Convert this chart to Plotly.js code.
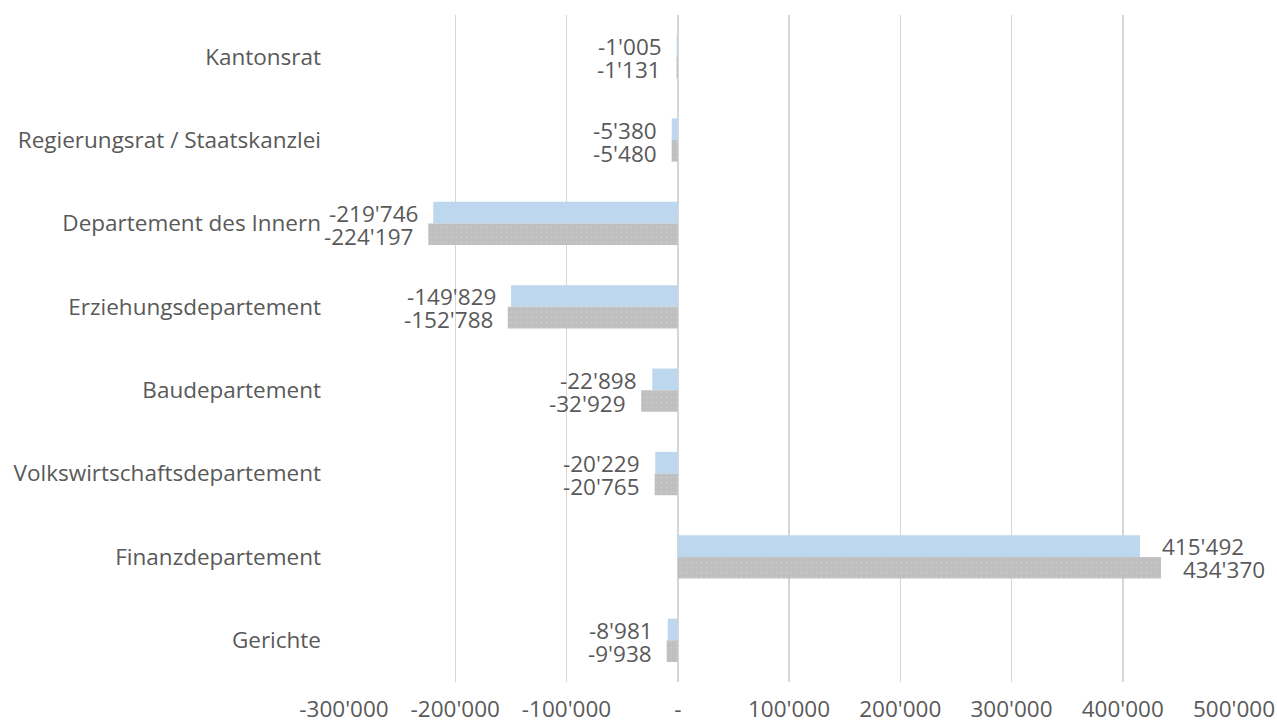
<!DOCTYPE html>
<html>
<head>
<meta charset="utf-8">
<script src="https://cdn.plot.ly/plotly-3.0.1.min.js"></script>
<style>html,body{margin:0;padding:0;background:#fff;}#chart{width:1277px;height:724px;}</style>
</head>
<body>
<div id="chart"></div>
<script>
const categories = ["Kantonsrat", "Regierungsrat / Staatskanzlei", "Departement des Innern", "Erziehungsdepartement", "Baudepartement", "Volkswirtschaftsdepartement", "Finanzdepartement", "Gerichte"];
const seriesA = [-1005, -5380, -219746, -149829, -22898, -20229, 415492, -8981];
const seriesB = [-1131, -5480, -224197, -152788, -32929, -20765, 434370, -9938];
const tickValues = [-300000, -200000, -100000, 0, 100000, 200000, 300000, 400000, 500000];
const tickLabels = ["-300'000", "-200'000", "-100'000", "-", "100'000", "200'000", "300'000", "400'000", "500'000"];

function fmt(v) {
  const s = Math.abs(v).toString().replace(/\B(?=(\d{3})+(?!\d))/g, "'");
  return (v < 0 ? "-" : "") + s;
}

const FONT = "Open Sans, Noto Sans, sans-serif";
const TXT = "#595959";
const FS = 22.5;

const traces = [
  { type: "bar", orientation: "h", y: categories, x: seriesA, name: "A",
    marker: { color: "#BDD7EE" }, hoverinfo: "x+y" },
  { type: "bar", orientation: "h", y: categories, x: seriesB, name: "B",
    marker: { color: "#BFBFBF", pattern: { shape: ".", fgcolor: "#CACACA", bgcolor: "#BFBFBF", size: 5, solidity: 0.12 } }, hoverinfo: "x+y" }
];

const annotations = [];
function addLabels(vals, yshift) {
  vals.forEach((v, i) => {
    annotations.push({
      x: v, y: categories[i], xref: "x", yref: "y", text: fmt(v), showarrow: false,
      xanchor: v < 0 ? "right" : "left", xshift: v < 0 ? -14 : 21, yshift: yshift,
      borderpad: 0,
      font: { family: FONT, size: FS, color: TXT }
    });
  });
}
addLabels(seriesA, 10);
addLabels(seriesB, -13);

const layout = {
  width: 1277, height: 724,
  margin: { l: 344, r: 43, t: 15, b: 42 },
  paper_bgcolor: "#fff", plot_bgcolor: "#fff",
  barmode: "group", bargap: 0.48, bargroupgap: 0,
  showlegend: false,
  font: { family: FONT, size: FS, color: TXT },
  xaxis: {
    range: [-300000, 500000], tickvals: tickValues, ticktext: tickLabels,
    showgrid: true, gridcolor: "#D6D6D6", gridwidth: 1.5, zeroline: false,
    ticks: "outside", ticklen: 7, tickcolor: "rgba(0,0,0,0)", showline: false,
    tickfont: { family: FONT, size: FS, color: TXT }
  },
  yaxis: {
    type: "category", autorange: "reversed", showgrid: false, zeroline: false,
    ticks: "", ticklabelstandoff: 22, showline: false,
    tickfont: { family: FONT, size: FS, color: TXT }
  },
  annotations: annotations
};

Plotly.newPlot("chart", traces, layout, { displayModeBar: false, staticPlot: true });
</script>
</body>
</html>
